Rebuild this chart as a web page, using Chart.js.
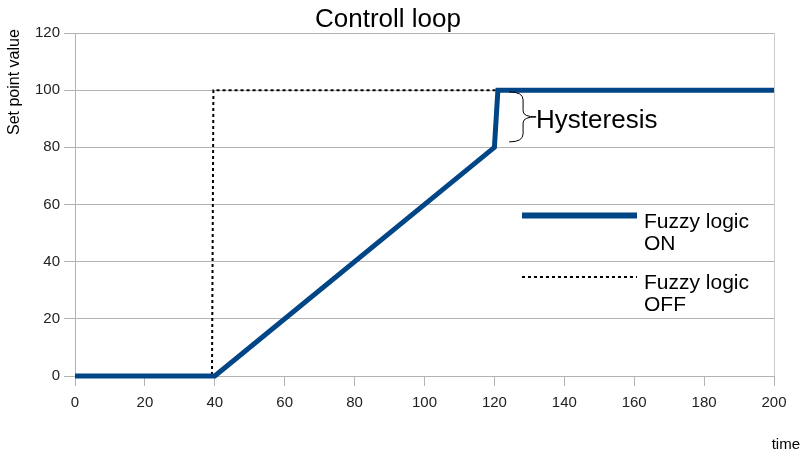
<!DOCTYPE html>
<html>
<head>
<meta charset="utf-8">
<script src="https://cdn.jsdelivr.net/npm/chart.js@4/dist/chart.umd.min.js"></script>
<style>
  html, body { margin: 0; padding: 0; background: #fff; }
</style>
</head>
<body>
<canvas id="chart" width="803" height="455"></canvas>
<script>
// data
const xTicks = [0, 20, 40, 60, 80, 100, 120, 140, 160, 180, 200];
const yTicks = [0, 20, 40, 60, 80, 100, 120];
const onTime = [0, 40, 120, 121, 200];
const onValue = [0, 0, 80, 100, 100];
const offTime = [0, 39.2, 39.6, 200];
const offValue = [0, 0, 100, 100];
const seriesNames = [['Fuzzy logic', 'ON'], ['Fuzzy logic', 'OFF']];
const hysteresis = { time: 124.2, from: 99.4, to: 81.9, label: 'Hysteresis' };

const FONT = '"Liberation Sans", Arial, sans-serif';
const BLUE = '#004586';
const GRID = '#b3b3b3';

const toPoints = (xs, ys) => xs.map((x, i) => ({ x, y: ys[i] }));

// titles, legend and the hysteresis brace are drawn on top of the chart
const overlay = {
  id: 'overlay',
  afterDraw(chart) {
    const { ctx, chartArea: area, scales } = chart;
    ctx.save();
    ctx.fillStyle = '#000';
    ctx.textBaseline = 'alphabetic';

    // right border of the plot
    ctx.strokeStyle = '#cccccc';
    ctx.lineWidth = 1;
    ctx.beginPath();
    ctx.moveTo(Math.round(area.right) + 0.5, area.top);
    ctx.lineTo(Math.round(area.right) + 0.5, area.bottom);
    ctx.stroke();

    ctx.font = `26px ${FONT}`;
    ctx.textAlign = 'center';
    ctx.fillText('Controll loop', 388, 27);

    ctx.font = `15px ${FONT}`;
    ctx.textAlign = 'right';
    ctx.fillText('time', 800, 449);

    ctx.save();
    ctx.translate(19, 135);
    ctx.rotate(-Math.PI / 2);
    ctx.font = `16px ${FONT}`;
    ctx.textAlign = 'left';
    ctx.fillText('Set point value', 0, 0);
    ctx.restore();

    // legend
    const ds = chart.data.datasets;
    const rows = [215.5, 277];
    ctx.font = `21px ${FONT}`;
    ctx.textAlign = 'left';
    ds.forEach((d, i) => {
      const y = rows[i];
      ctx.save();
      ctx.strokeStyle = d.borderColor;
      ctx.lineWidth = i === 0 ? 6 : 2;
      ctx.setLineDash(i === 0 ? [] : [3, 3]);
      ctx.beginPath();
      ctx.moveTo(522, y);
      ctx.lineTo(637, y);
      ctx.stroke();
      ctx.restore();
      ctx.fillStyle = '#000';
      ctx.fillText(seriesNames[i][0], 644, y + 12);
      ctx.fillText(seriesNames[i][1], 644, y + 34);
    });

    // hysteresis brace
    const x0 = scales.x.getPixelForValue(hysteresis.time);
    const x1 = x0 + 14;
    const x2 = x0 + 27;
    const yt = scales.y.getPixelForValue(hysteresis.from);
    const yb = scales.y.getPixelForValue(hysteresis.to);
    const ym = (yt + yb) / 2;
    ctx.strokeStyle = '#000';
    ctx.lineWidth = 1;
    ctx.beginPath();
    ctx.moveTo(x0, yt);
    ctx.quadraticCurveTo(x1, yt, x1, yt + 8);
    ctx.lineTo(x1, ym - 6);
    ctx.quadraticCurveTo(x1, ym, x2, ym);
    ctx.quadraticCurveTo(x1, ym, x1, ym + 6);
    ctx.lineTo(x1, yb - 8);
    ctx.quadraticCurveTo(x1, yb, x0, yb);
    ctx.stroke();
    ctx.font = `26px ${FONT}`;
    ctx.fillText(hysteresis.label, x2, ym + 11);

    ctx.restore();
  }
};

new Chart(document.getElementById('chart'), {
  type: 'line',
  data: {
    datasets: [
      {
        label: seriesNames[0].join(' '),
        data: toPoints(onTime, onValue),
        borderColor: BLUE,
        borderWidth: 5,
        pointRadius: 0,
        tension: 0,
        clip: 6,
      },
      {
        label: seriesNames[1].join(' '),
        data: toPoints(offTime, offValue),
        borderColor: '#000',
        borderWidth: 2,
        borderDash: [3, 3],
        pointRadius: 0,
        tension: 0,
        clip: 6,
      },
    ],
  },
  options: {
    responsive: false,
    animation: false,
    devicePixelRatio: 1,
    layout: { padding: { top: 33, right: 29, left: 0, bottom: 0 } },
    plugins: {
      legend: { display: false },
      title: { display: false },
      tooltip: { enabled: false },
    },
    scales: {
      x: {
        type: 'linear',
        min: xTicks[0],
        max: xTicks[xTicks.length - 1],
        afterBuildTicks: (s) => { s.ticks = xTicks.map((v) => ({ value: v })); },
        afterFit: (s) => { s.height = 79; },
        ticks: { font: { family: FONT, size: 15 }, color: '#222', padding: 8, maxRotation: 0 },
        grid: { drawOnChartArea: false, tickLength: 10, color: GRID },
        border: { color: GRID },
      },
      y: {
        min: yTicks[0],
        max: yTicks[yTicks.length - 1],
        afterBuildTicks: (s) => { s.ticks = yTicks.map((v) => ({ value: v })); },
        afterFit: (s) => { s.width = 75; },
        ticks: { font: { family: FONT, size: 15 }, color: '#222', padding: 4 },
        grid: { tickLength: 11, color: GRID },
        border: { color: GRID },
      },
    },
  },
  plugins: [overlay],
});
</script>
</body>
</html>
